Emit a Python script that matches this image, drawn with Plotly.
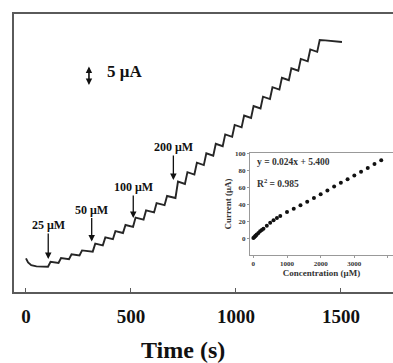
import plotly.graph_objects as go

# ---- main amperometric trace (time s, current uA) ----
time_s = [0, 10, 25, 50, 105,
          117, 155, 167, 205, 217, 255, 267, 318,
          330, 366, 378, 414, 426, 462, 474, 510,
          522, 560, 572, 610, 622, 660, 672, 712,
          724, 757, 769, 802, 814, 847, 859, 892, 904, 937,
          949, 982, 994, 1027, 1039, 1072, 1084, 1117, 1129, 1162,
          1174, 1207, 1219, 1252, 1264, 1297, 1309, 1342, 1354, 1387,
          1399, 1425, 1505]
current_uA = [8.4, 7.4, 6.7, 6.4, 6.3,
              7.55, 7.25, 8.5, 8.2, 9.45, 9.15, 10.4, 10.1,
              12.1, 11.65, 13.65, 13.2, 15.2, 14.75, 16.75, 16.3,
              18.6, 18.1, 20.4, 19.9, 22.2, 21.7, 24.0, 23.5,
              27.6, 27.0, 29.96, 29.36, 32.32, 31.72, 34.68, 34.08, 37.04, 36.44,
              39.4, 38.8, 41.76, 41.16, 44.12, 43.52, 46.48, 45.88, 48.84, 48.24,
              51.2, 50.6, 53.56, 52.96, 55.92, 55.32, 58.28, 57.68, 60.64, 60.04,
              63.0, 62.9, 62.5]

# ---- addition arrows ----
arrow_labels = ["25 \u03bcM", "50 \u03bcM", "100 \u03bcM", "200 \u03bcM"]
arrow_times = [106, 313, 511, 702]
arrow_tip_uA = [8.25, 12.6, 18.5, 28.0]
arrow_text_offset = [-34, -32, -31, -33]

# ---- inset calibration ----
conc_uM = [0, 25, 50, 75, 100, 150, 200, 250, 300, 400, 500, 600, 700,
           800, 1000, 1200, 1400, 1600, 1800, 2000, 2200, 2400, 2600,
           2800, 3000, 3200, 3400, 3600, 3800]
inset_current = [1, 2, 3, 4, 5, 7, 9, 10.5, 12, 15.5, 19, 22, 24.5,
                 27, 31.5, 35.5, 39.5, 43.5, 48, 52.5, 57, 61.5, 66,
                 70, 74.5, 79, 83.5, 88, 92.5]
x_ticks = [0, 500, 1000, 1500]
inset_xticks = [0, 1000, 2000, 3000, 4000]
inset_yticks = [0, 20, 40, 60, 80, 100]

SERIF = "Liberation Serif"
FRAME = "#5a5a5a"
INK = "#111111"


def px_to_paper(px, py):
    return (px - 14) / 379, (292 - py) / 278


fig = go.Figure()
fig.add_trace(go.Scatter(x=time_s, y=current_uA, mode="lines",
                         line=dict(color="#262626", width=1.9),
                         showlegend=False, hoverinfo="skip"))
fig.add_trace(go.Scatter(x=conc_uM, y=inset_current, mode="markers",
                         marker=dict(color=INK, size=4, symbol="circle"),
                         xaxis="x2", yaxis="y2", showlegend=False))

anns = []
for lab, t, yv, off in zip(arrow_labels, arrow_times, arrow_tip_uA, arrow_text_offset):
    anns.append(dict(x=t, y=yv, xref="x", yref="y", text=lab, showarrow=True,
                     ax=0, ay=off, arrowhead=2, arrowsize=1, arrowwidth=1.3,
                     arrowcolor=INK, standoff=0,
                     font=dict(family=SERIF, size=12, color=INK, weight="bold")))
# scale bar
anns.append(dict(x=300, y=51.75, ax=300, ay=56.75, axref="x", ayref="y",
                 xref="x", yref="y", text="", showarrow=True, arrowhead=2,
                 arrowside="end+start", arrowsize=0.8, arrowwidth=1.6,
                 arrowcolor=INK))
anns.append(dict(x=467, y=55.2, xref="x", yref="y", text="5 \u03bcA", showarrow=False,
                 font=dict(family=SERIF, size=17, color=INK, weight="bold")))
# main x title
tx, ty = px_to_paper(183, 350)
anns.append(dict(x=tx, y=ty, xref="paper", yref="paper", text="Time (s)",
                 showarrow=False, yanchor="middle",
                 font=dict(family=SERIF, size=24, color=INK, weight="bold")))
# inset texts
ex, ey = px_to_paper(255, 161.5)
anns.append(dict(x=ex, y=ey, xref="paper", yref="paper", text="y = 0.024x + 5.400",
                 showarrow=False, xanchor="left", yanchor="middle",
                 font=dict(family=SERIF, size=9.5, color="#333333", weight="bold")))
rx, ry = px_to_paper(255, 183)
anns.append(dict(x=rx, y=ry, xref="paper", yref="paper", text="R<sup>2</sup> = 0.985",
                 showarrow=False, xanchor="left", yanchor="middle",
                 font=dict(family=SERIF, size=9.5, color="#333333", weight="bold")))

fig.update_layout(
    width=393, height=363,
    margin=dict(l=14, r=0, t=14, b=71),
    paper_bgcolor="white", plot_bgcolor="white",
    annotations=anns,
    xaxis=dict(range=[-57, 1748], showline=True, mirror=True, linecolor=FRAME,
               linewidth=2, ticks="inside", ticklen=4, tickcolor=FRAME,
               tickvals=x_ticks, showgrid=False, zeroline=False,
               ticklabelstandoff=6,
               tickfont=dict(family=SERIF, size=19, color=INK, weight="bold")),
    yaxis=dict(range=[0, 69.5], showline=True, linecolor=FRAME, linewidth=2,
               showticklabels=False, ticks="", showgrid=False, zeroline=False),
    xaxis2=dict(domain=[(250 - 14) / 379, 1.0], anchor="y2", range=[-100, 4150],
                showline=True, mirror=True, linecolor="#999999", linewidth=1,
                ticks="outside", ticklen=2, tickcolor="#999999",
                tickvals=inset_xticks, showgrid=False, zeroline=False,
                tickfont=dict(family=SERIF, size=7, color="#333333", weight="bold"),
                title=dict(text="Concentration (\u03bcM)", standoff=1,
                           font=dict(family=SERIF, size=9, color="#333333", weight="bold"))),
    yaxis2=dict(domain=[(292 - 255) / 278, (292 - 153) / 278], anchor="x2",
                range=[-19, 101], showline=True, mirror=True, linecolor="#999999",
                linewidth=1, ticks="outside", ticklen=2, tickcolor="#999999",
                tickvals=inset_yticks, showgrid=False, zeroline=False,
                tickfont=dict(family=SERIF, size=7, color="#333333", weight="bold"),
                title=dict(text="Current (\u03bcA)", standoff=1,
                           font=dict(family=SERIF, size=9, color="#333333", weight="bold"))),
)

fig.write_html("out.html")
